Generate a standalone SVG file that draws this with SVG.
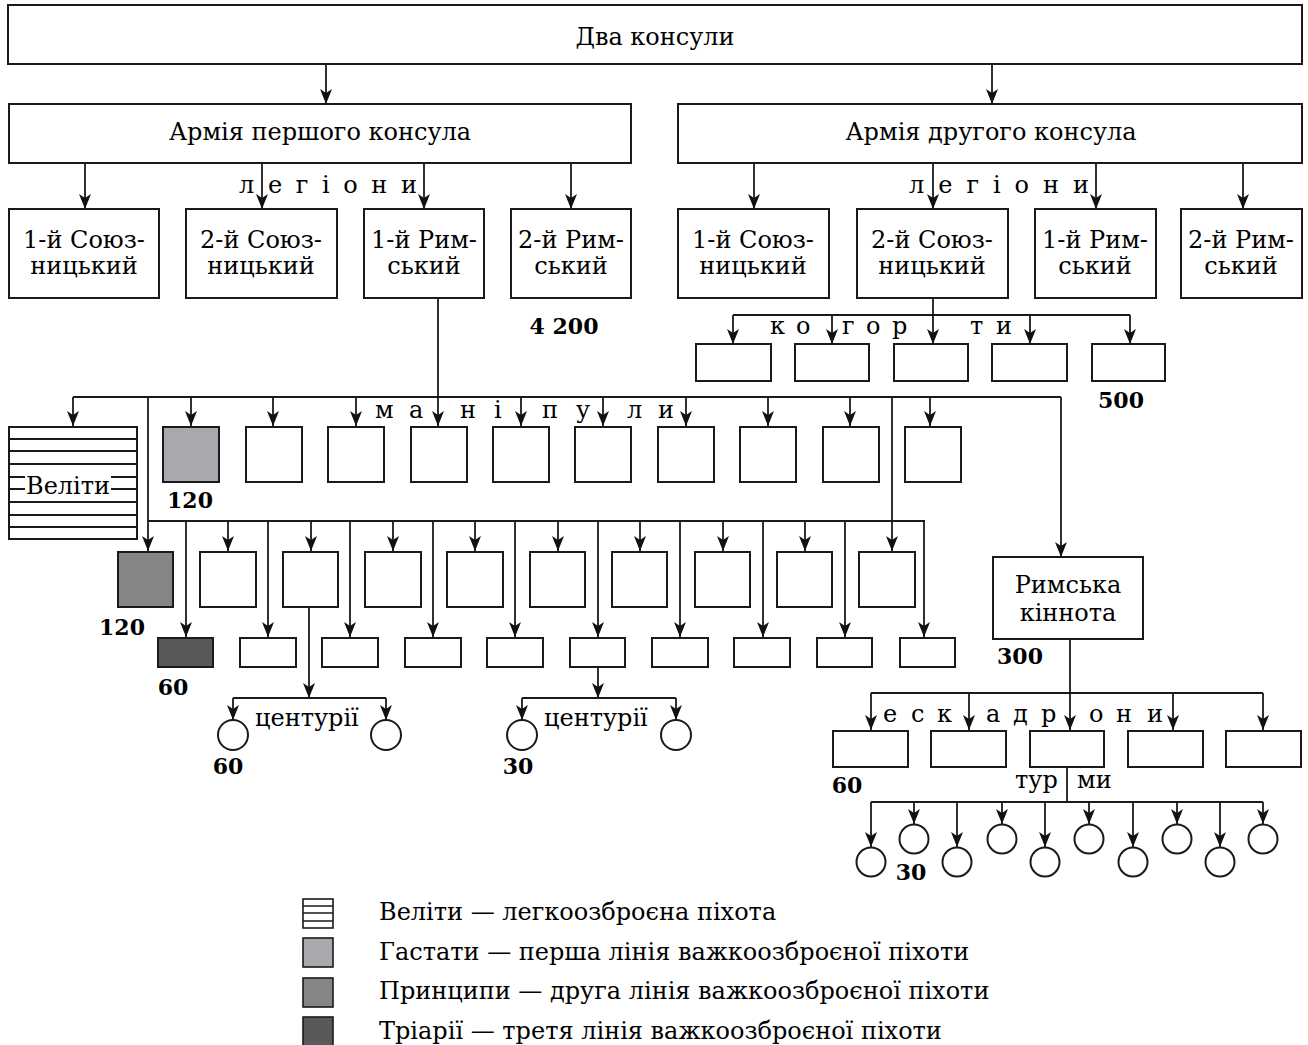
<svg xmlns="http://www.w3.org/2000/svg" width="1308" height="1045" viewBox="0 0 1308 1045">
<style>
text{font-family:"DejaVu Serif","Liberation Serif",serif;font-size:24px;fill:#000}
.c{text-anchor:middle}
.n{font-weight:bold;font-size:22px;text-anchor:middle}
.b{fill:#fff;stroke:#1a1a1a;stroke-width:2}
.ln{fill:none;stroke:#1a1a1a;stroke-width:1.8}
.a{fill:none;stroke:#1a1a1a;stroke-width:1.8;marker-end:url(#ah)}
.g1{fill:#a8a9ac;stroke:#1a1a1a;stroke-width:2}
.g2{fill:#858585;stroke:#1a1a1a;stroke-width:2}
.g3{fill:#58595b;stroke:#1a1a1a;stroke-width:2}
</style>
<defs>
<marker id="ah" markerUnits="userSpaceOnUse" markerWidth="16" markerHeight="13" refX="15" refY="6.5" orient="auto"><path d="M0,0.5 L15,6.5 L0,12.5 L4,6.5 Z" fill="#111"/></marker>
</defs>
<rect width="1308" height="1045" fill="#fff"/>

<g id="connectors">
<path class="a" d="M326,64V104"/>
<path class="a" d="M992,64V104"/>
<path class="a" d="M85,163V209"/>
<path class="a" d="M262,163V209"/>
<path class="a" d="M424,163V209"/>
<path class="a" d="M571,163V209"/>
<path class="a" d="M754,163V209"/>
<path class="a" d="M933,163V209"/>
<path class="a" d="M1096,163V209"/>
<path class="a" d="M1243,163V209"/>
<path class="ln" d="M733,315H1130"/>
<path class="a" d="M933,298V344"/>
<path class="a" d="M733,315V344"/>
<path class="a" d="M832,315V344"/>
<path class="a" d="M1030,315V344"/>
<path class="a" d="M1130,315V344"/>
<path class="ln" d="M73,397H1061"/>
<path class="a" d="M438,298V426"/>
<path class="a" d="M73,397V426"/>
<path class="a" d="M191,397V426"/>
<path class="a" d="M273,397V426"/>
<path class="a" d="M356,397V426"/>
<path class="a" d="M521,397V426"/>
<path class="a" d="M603,397V426"/>
<path class="a" d="M686,397V426"/>
<path class="a" d="M768,397V426"/>
<path class="a" d="M850,397V426"/>
<path class="a" d="M930,397V426"/>
<path class="a" d="M1061,397V557"/>
<path class="a" d="M148,397V551"/>
<path class="a" d="M892,397V551"/>
<path class="ln" d="M148,521H925"/>
<path class="a" d="M228,521V551"/>
<path class="a" d="M311,521V551"/>
<path class="a" d="M393,521V551"/>
<path class="a" d="M475,521V551"/>
<path class="a" d="M558,521V551"/>
<path class="a" d="M640,521V551"/>
<path class="a" d="M723,521V551"/>
<path class="a" d="M805,521V551"/>
<path class="a" d="M186,521V637"/>
<path class="a" d="M268,521V637"/>
<path class="a" d="M350,521V637"/>
<path class="a" d="M433,521V637"/>
<path class="a" d="M515,521V637"/>
<path class="a" d="M598,521V637"/>
<path class="a" d="M680,521V637"/>
<path class="a" d="M763,521V637"/>
<path class="a" d="M845,521V637"/>
<path class="a" d="M924,521V637"/>
<path class="a" d="M309,607V698"/>
<path class="ln" d="M233,698H386"/>
<path class="a" d="M233,698V720"/>
<path class="a" d="M386,698V720"/>
<path class="a" d="M598,667V698"/>
<path class="ln" d="M522,698H676"/>
<path class="a" d="M522,698V720"/>
<path class="a" d="M676,698V720"/>
<path class="ln" d="M1070,639V693M871,693H1263"/>
<path class="a" d="M871,693V730"/>
<path class="a" d="M969,693V730"/>
<path class="a" d="M1070,693V730"/>
<path class="a" d="M1173,693V730"/>
<path class="a" d="M1263,693V730"/>
<path class="ln" d="M1067,767V802M871,802H1263"/>
<path class="a" d="M871,802V847"/>
<path class="a" d="M957,802V847"/>
<path class="a" d="M1045,802V847"/>
<path class="a" d="M1133,802V847"/>
<path class="a" d="M1220,802V847"/>
<path class="a" d="M914,802V824"/>
<path class="a" d="M1002,802V824"/>
<path class="a" d="M1089,802V824"/>
<path class="a" d="M1177,802V824"/>
<path class="a" d="M1263,802V824"/>
</g>

<g id="consuls"><rect class="b" x="8" y="5" width="1294" height="59"/><text class="c" x="655" y="45">Два консули</text></g>
<g id="army1"><rect class="b" x="9" y="104" width="622" height="59"/><text class="c" x="320" y="140">Армія першого консула</text></g>
<g id="army2"><rect class="b" x="678" y="104" width="624" height="59"/><text class="c" x="991" y="140">Армія другого консула</text></g>

<g id="legion-labels">
<text x="239" y="193" textLength="178" lengthAdjust="spacing">л е г і о н и</text>
<text x="909" y="193" textLength="180" lengthAdjust="spacing">л е г і о н и</text>
</g>

<g id="leg-l1"><rect class="b" x="9" y="209" width="150" height="89"/><text class="c" x="84" y="248">1-й Союз-</text><text class="c" x="84" y="274">ницький</text></g>
<g id="leg-l2"><rect class="b" x="186" y="209" width="151" height="89"/><text class="c" x="261" y="248">2-й Союз-</text><text class="c" x="261" y="274">ницький</text></g>
<g id="leg-l3"><rect class="b" x="364" y="209" width="120" height="89"/><text class="c" x="424" y="248">1-й Рим-</text><text class="c" x="424" y="274">ський</text></g>
<g id="leg-l4"><rect class="b" x="511" y="209" width="120" height="89"/><text class="c" x="571" y="248">2-й Рим-</text><text class="c" x="571" y="274">ський</text></g>
<g id="leg-r1"><rect class="b" x="678" y="209" width="151" height="89"/><text class="c" x="753" y="248">1-й Союз-</text><text class="c" x="753" y="274">ницький</text></g>
<g id="leg-r2"><rect class="b" x="857" y="209" width="151" height="89"/><text class="c" x="932" y="248">2-й Союз-</text><text class="c" x="932" y="274">ницький</text></g>
<g id="leg-r3"><rect class="b" x="1035" y="209" width="121" height="89"/><text class="c" x="1095" y="248">1-й Рим-</text><text class="c" x="1095" y="274">ський</text></g>
<g id="leg-r4"><rect class="b" x="1181" y="209" width="121" height="89"/><text class="c" x="1241" y="248">2-й Рим-</text><text class="c" x="1241" y="274">ський</text></g>

<g id="numbers">
<text class="n" x="564" y="334">4 200</text>
<text class="n" x="1121" y="408">500</text>
<text class="n" x="190" y="508">120</text>
<text class="n" x="122" y="635">120</text>
<text class="n" x="173" y="695">60</text>
<text class="n" x="228" y="774">60</text>
<text class="n" x="518" y="774">30</text>
<text class="n" x="1020" y="664">300</text>
<text class="n" x="847" y="793">60</text>
<text class="n" x="911" y="880">30</text>
</g>

<g id="cohorts">
<text x="770" y="334">к</text><text x="796" y="334">о</text><text x="842" y="334">г</text><text x="866" y="334">о</text><text x="892" y="334">р</text><text x="970" y="334">т</text><text x="996" y="334">и</text>
<rect class="b" x="696" y="344" width="75" height="37"/>
<rect class="b" x="795" y="344" width="74" height="37"/>
<rect class="b" x="894" y="344" width="74" height="37"/>
<rect class="b" x="992" y="344" width="75" height="37"/>
<rect class="b" x="1092" y="344" width="73" height="37"/>
</g>

<g id="velites">
<rect class="b" x="9" y="427" width="128" height="112"/>
<path class="ln" d="M9,439H137M9,451H137M9,464H137M9,477H137M9,489H137M9,502H137M9,515H137M9,527H137"/>
<rect x="25" y="476" width="86" height="24" fill="#fff"/>
<text x="26" y="494">Веліти</text>
</g>

<g id="manipuli-label">
<text x="375" y="418">м</text><text x="409" y="418">а</text><text x="460" y="418">н</text><text x="494" y="418">і</text><text x="542" y="418">п</text><text x="576" y="418">у</text><text x="627" y="418">л</text><text x="658" y="418">и</text>
</g>

<g id="hastati">
<rect class="g1" x="163" y="427" width="56" height="55"/>
<rect class="b" x="246" y="427" width="56" height="55"/>
<rect class="b" x="328" y="427" width="56" height="55"/>
<rect class="b" x="411" y="427" width="56" height="55"/>
<rect class="b" x="493" y="427" width="56" height="55"/>
<rect class="b" x="575" y="427" width="56" height="55"/>
<rect class="b" x="658" y="427" width="56" height="55"/>
<rect class="b" x="740" y="427" width="56" height="55"/>
<rect class="b" x="823" y="427" width="56" height="55"/>
<rect class="b" x="905" y="427" width="56" height="55"/>
</g>

<g id="principes">
<rect class="g2" x="118" y="552" width="55" height="55"/>
<rect class="b" x="200" y="552" width="56" height="55"/>
<rect class="b" x="283" y="552" width="55" height="55"/>
<rect class="b" x="365" y="552" width="56" height="55"/>
<rect class="b" x="447" y="552" width="56" height="55"/>
<rect class="b" x="530" y="552" width="55" height="55"/>
<rect class="b" x="612" y="552" width="55" height="55"/>
<rect class="b" x="695" y="552" width="55" height="55"/>
<rect class="b" x="777" y="552" width="55" height="55"/>
<rect class="b" x="859" y="552" width="56" height="55"/>
</g>

<g id="triarii">
<rect class="g3" x="158" y="638" width="55" height="29"/>
<rect class="b" x="240" y="638" width="56" height="29"/>
<rect class="b" x="322" y="638" width="56" height="29"/>
<rect class="b" x="405" y="638" width="56" height="29"/>
<rect class="b" x="487" y="638" width="56" height="29"/>
<rect class="b" x="570" y="638" width="55" height="29"/>
<rect class="b" x="652" y="638" width="56" height="29"/>
<rect class="b" x="734" y="638" width="56" height="29"/>
<rect class="b" x="817" y="638" width="55" height="29"/>
<rect class="b" x="900" y="638" width="55" height="29"/>
</g>

<g id="centuries">
<circle class="b" cx="233" cy="735" r="15"/>
<circle class="b" cx="386" cy="735" r="15"/>
<text x="255" y="726">центурії</text>
<circle class="b" cx="522" cy="735" r="15"/>
<circle class="b" cx="676" cy="735" r="15"/>
<text x="544" y="726">центурії</text>
</g>

<g id="cavalry">
<rect class="b" x="993" y="557" width="150" height="82"/>
<text class="c" x="1068" y="593">Римська</text>
<text class="c" x="1068" y="621">кіннота</text>
</g>

<g id="squadrons">
<text x="883" y="722">е</text><text x="911" y="722">с</text><text x="937" y="722">к</text><text x="986" y="722">а</text><text x="1013" y="722">д</text><text x="1041" y="722">р</text><text x="1089" y="722">о</text><text x="1116" y="722">н</text><text x="1147" y="722">и</text>
<rect class="b" x="833" y="731" width="75" height="36"/>
<rect class="b" x="931" y="731" width="75" height="36"/>
<rect class="b" x="1030" y="731" width="74" height="36"/>
<rect class="b" x="1128" y="731" width="75" height="36"/>
<rect class="b" x="1226" y="731" width="75" height="36"/>
</g>

<g id="turmae">
<text x="1015" y="788">тур</text><text x="1077" y="788">ми</text>
<circle class="b" cx="871" cy="862" r="14.5"/>
<circle class="b" cx="957" cy="862" r="14.5"/>
<circle class="b" cx="1045" cy="862" r="14.5"/>
<circle class="b" cx="1133" cy="862" r="14.5"/>
<circle class="b" cx="1220" cy="862" r="14.5"/>
<circle class="b" cx="914" cy="839" r="14.5"/>
<circle class="b" cx="1002" cy="839" r="14.5"/>
<circle class="b" cx="1089" cy="839" r="14.5"/>
<circle class="b" cx="1177" cy="839" r="14.5"/>
<circle class="b" cx="1263" cy="839" r="14.5"/>
</g>

<g id="legend">
<rect class="b" x="303" y="899" width="30" height="29" style="stroke-width:1.6"/>
<path class="ln" d="M303,906H333M303,913H333M303,921H333" style="stroke-width:1.4"/>
<rect class="g1" x="303" y="938" width="30" height="29" style="stroke-width:1.6"/>
<rect class="g2" x="303" y="978" width="30" height="29" style="stroke-width:1.6"/>
<rect class="g3" x="303" y="1017" width="30" height="29" style="stroke-width:1.6"/>
<text x="379" y="920">Веліти — легкоозброєна піхота</text>
<text x="379" y="960">Гастати — перша лінія важкоозброєної піхоти</text>
<text x="379" y="999">Принципи — друга лінія важкоозброєної піхоти</text>
<text x="379" y="1039">Тріарії — третя лінія важкоозброєної піхоти</text>
</g>
</svg>
